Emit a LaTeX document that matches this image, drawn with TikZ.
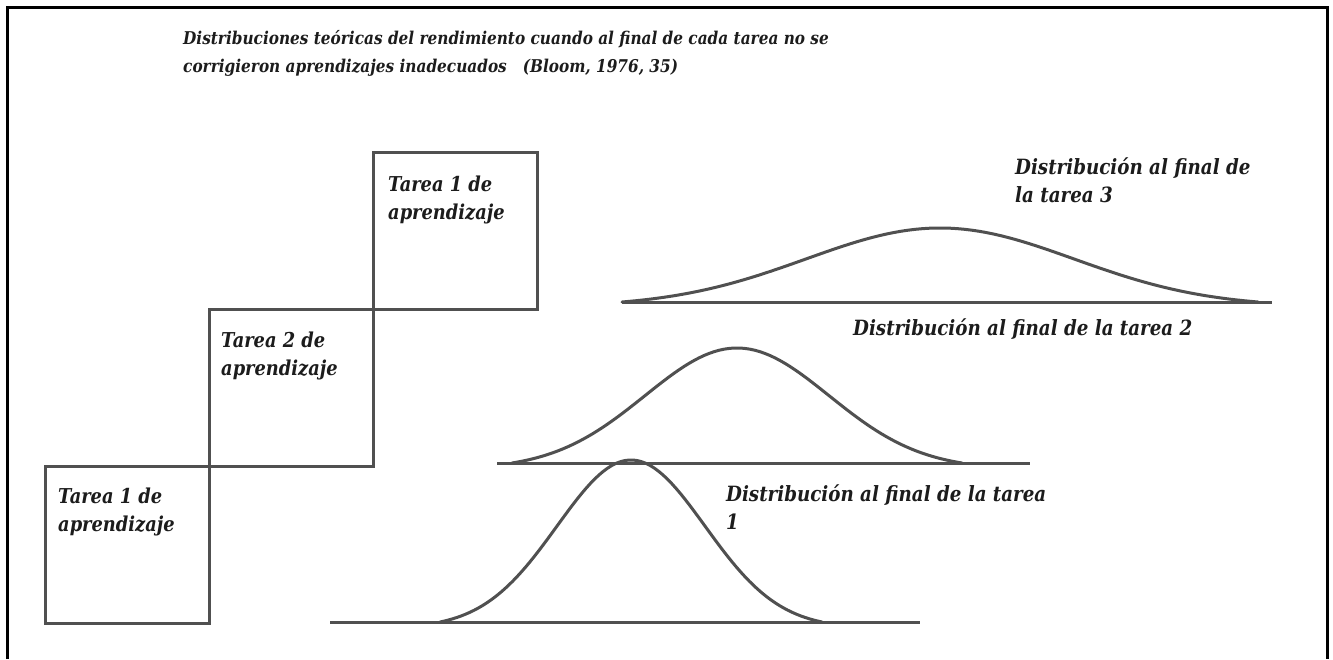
\documentclass[tikz,border=0pt]{standalone}
\usepackage{fontspec}
\setmainfont{Liberation Serif}
\newfontfamily\bookfont[FakeStretch=0.87]{DejaVu Serif}
\usepackage{tikz}
\usetikzlibrary{positioning}
\usepackage{xcolor}
\definecolor{inkgray}{HTML}{505050}
\definecolor{textdark}{HTML}{1c1c1c}

\begin{document}
\begin{tikzpicture}[x=1pt, y=-1pt,
    tarea/.style={draw=inkgray, line width=3pt, rectangle, minimum width=164pt, minimum height=157pt, outer sep=0pt, inner sep=0pt},
    tareatext/.style={anchor=north west, align=left, inner sep=0pt, text=textdark, font=\bookfont\bfseries\itshape\fontsize{20.5}{28}\selectfont},
    titletext/.style={anchor=north west, align=left, inner sep=0pt, text=textdark, font=\bookfont\bfseries\itshape\fontsize{17.6}{28}\selectfont},
    disttext/.style={anchor=north west, align=left, inner sep=0pt, text=textdark, font=\bookfont\bfseries\itshape\fontsize{21}{28}\selectfont},
    curve/.style={draw=inkgray, line width=3pt, line join=round, line cap=round},
    axisline/.style={draw=inkgray, line width=3pt}
]
    \useasboundingbox (0,0) rectangle (1333,659);
    \fill[white] (0,0) rectangle (1333,659);
    % frame
    \draw[line width=3pt] (7,659) -- (7,7) -- (1327,7) -- (1327,659);

    \node[titletext] (title) at (183,30) {Distribuciones teóricas del rendimiento cuando al final de cada tarea no se\\corrigieron aprendizajes inadecuados\ \ \ (Bloom, 1976, 35)};

    % staircase of tasks
    \node[tarea] (tarea1) at (127,545) {};
    \node[tarea, above right=0pt and 0pt of tarea1] (tarea2) {};
    \node[tarea, above right=0pt and 0pt of tarea2] (tarea3) {};
    \node[tareatext] (t1text) at ([shift={(13,21)}]tarea1.north west) {Tarea 1 de\\aprendizaje};
    \node[tareatext] (t2text) at ([shift={(12,22)}]tarea2.north west) {Tarea 2 de\\aprendizaje};
    \node[tareatext] (t3text) at ([shift={(15,23)}]tarea3.north west) {Tarea 1 de\\aprendizaje};

    % distribution after task 1
    \draw[axisline] (330,622) -- (920,622);
    \draw[curve] plot[domain=440:822, samples=90] (\x, {622 - 162*(exp(-((\x-631)/74)*((\x-631)/74)/2) - exp(-(191/74)*(191/74)/2))/(1 - exp(-(191/74)*(191/74)/2))});
    \node[disttext] (dist1) at (726,484) {Distribución al final de la tarea\\1};

    % distribution after task 2
    \draw[axisline] (497,463) -- (1030,463);
    \draw[curve] plot[domain=512:962, samples=90] (\x, {463 - 115*(exp(-((\x-737)/92)*((\x-737)/92)/2) - exp(-(225/92)*(225/92)/2))/(1 - exp(-(225/92)*(225/92)/2))});
    \node[disttext] (dist2) at (853,318) {Distribución al final de la tarea 2};

    % distribution after task 3
    \draw[axisline] (622,302) -- (1272,302);
    \draw[curve] plot[domain=622:1258, samples=90] (\x, {302 - 74*(exp(-((\x-940)/134)*((\x-940)/134)/2) - exp(-(318/134)*(318/134)/2))/(1 - exp(-(318/134)*(318/134)/2))});
    \node[disttext] (dist3) at (1015,157) {Distribución al final de\\la tarea 3};
\end{tikzpicture}
\end{document}
